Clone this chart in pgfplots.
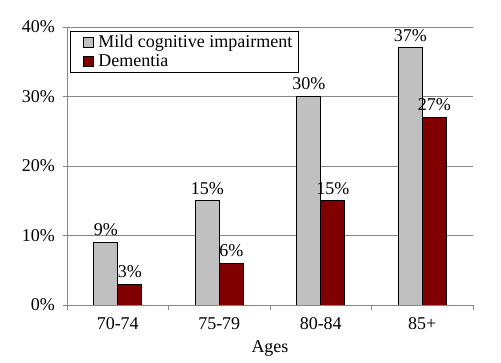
\documentclass[border=0pt]{standalone}
\usepackage{pgfplots}
\pgfplotsset{compat=1.18}
\usepackage{fontspec}
\setmainfont{Liberation Serif}
\definecolor{mcigray}{HTML}{C0C0C0}
\definecolor{demred}{HTML}{800000}
\definecolor{gridgray}{HTML}{868686}
\begin{document}
\fontsize{18}{21}\selectfont
\begin{tikzpicture}
\path[use as bounding box] (-67pt,-58pt) rectangle (434pt,305pt);
\begin{axis}[
  at={(0pt,0pt)}, anchor=south west,
  scale only axis, width=406pt, height=278pt,
  ybar=0pt, bar width=24pt,
  xmin=-0.5, xmax=3.5, ymin=0, ymax=40,
  xtick={0,1,2,3}, xticklabels={70-74,75-79,80-84,85+},
  major x tick style={draw=none},
  minor xtick={-0.5,0.5,1.5,2.5,3.5},
  minor x tick style={gridgray, line width=0.8pt},
  ytick={0,10,20,30,40},
  yticklabel={\pgfmathprintnumber{\tick}\%},
  /pgf/number format/assume math mode=true,
  axis x line*=bottom, axis y line*=left,
  axis line style={gridgray, line width=0.8pt, -},
  ymajorgrids, grid style={gridgray, line width=0.8pt},
  tick align=outside, major tick length=4pt, minor tick length=5pt,
  major y tick style={gridgray, line width=0.8pt},
  xlabel={Ages},
  xlabel style={yshift=1pt},
  xticklabel style={yshift=-2pt},
  yticklabel style={xshift=-2pt},
  tick label style={font=\fontsize{18}{21}\selectfont},
  label style={font=\fontsize{18}{21}\selectfont},
  nodes near coords={\pgfmathprintnumber{\pgfplotspointmeta}\%},
  nodes near coords style={font=\fontsize{18}{21}\selectfont, inner sep=1pt, yshift=5pt, /pgf/number format/assume math mode=true},
  legend style={at={(rel axis cs:0.008,0.985)}, anchor=north west, draw=black, line width=0.8pt,
    font=\fontsize{18}{21}\selectfont, row sep=0pt, inner xsep=4pt, inner ysep=1.5pt,
    legend cell align=left, /tikz/every odd column/.append style={column sep=3pt}},
  legend image code/.code={\path (0pt,0pt); \draw[#1, line width=0.6pt] (8pt,-5pt) rectangle (18pt,5pt);},
]
\addplot[fill=mcigray, draw=black, line width=0.8pt] coordinates {(0,9) (1,15) (2,30) (3,37)};
\addplot[fill=demred, draw=black, line width=0.8pt] coordinates {(0,3) (1,6) (2,15) (3,27)};
\legend{Mild cognitive impairment\hspace{3pt}, Dementia}
\end{axis}
\end{tikzpicture}
\end{document}
